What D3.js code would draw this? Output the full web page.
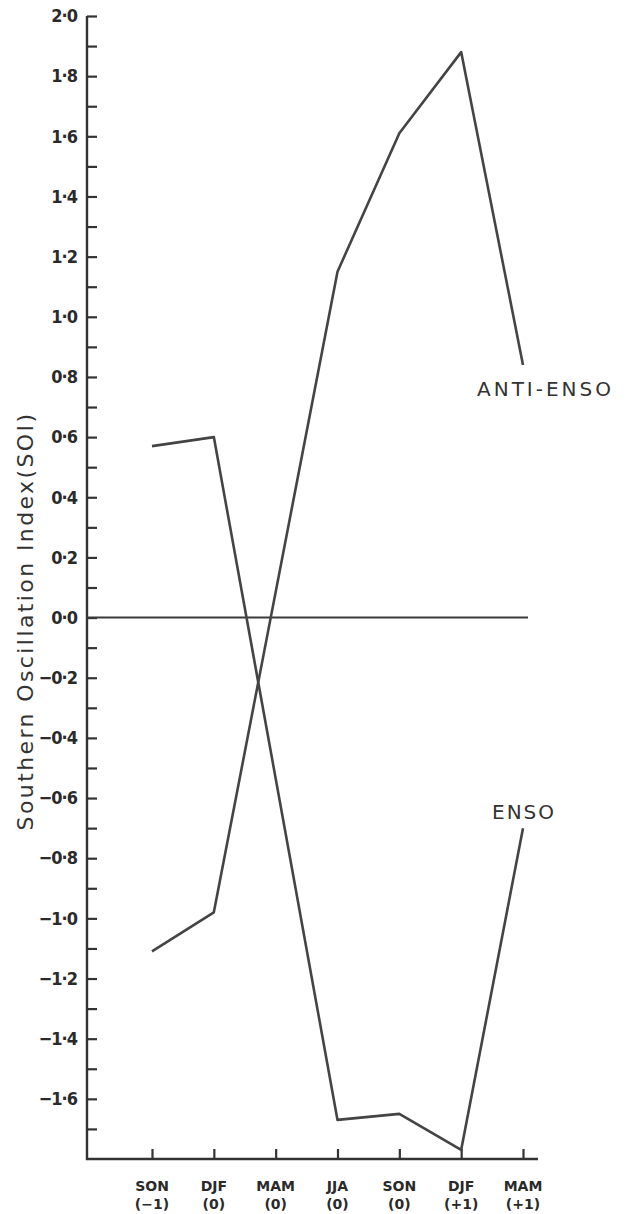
<!DOCTYPE html>
<html>
<head>
<meta charset="utf-8">
<script src="https://cdn.jsdelivr.net/npm/d3@7"></script>
<style>
    body { margin: 0; background: #fff; }
    .axis path, .axis line { stroke: #333; stroke-width: 2.2px; }
    .axis text { fill: #2a2a2a; }
</style>
</head>
<body>
<div id="chart"></div>
<script>
// data
var seasons = ["SON (-1)", "DJF (0)", "MAM (0)", "JJA (0)", "SON (0)", "DJF (+1)", "MAM (+1)"];
var seasonTop = ["SON", "DJF", "MAM", "JJA", "SON", "DJF", "MAM"];
var seasonBottom = ["(\u22121)", "(0)", "(0)", "(0)", "(0)", "(+1)", "(+1)"];
var ensoValues = [0.57, 0.60, null, -1.67, -1.65, -1.77, -0.70];
var antiEnsoValues = [-1.11, -0.98, null, 1.15, 1.61, 1.88, 0.84];
var yMajorTicks = [2.0, 1.8, 1.6, 1.4, 1.2, 1.0, 0.8, 0.6, 0.4, 0.2, 0.0, -0.2, -0.4, -0.6, -0.8, -1.0, -1.2, -1.4, -1.6];
var yMinorTicks = [1.9, 1.7, 1.5, 1.3, 1.1, 0.9, 0.7, 0.5, 0.3, 0.1, -0.1, -0.3, -0.5, -0.7, -0.9, -1.1, -1.3, -1.5, -1.7];

//Define layout
var W = 625, H = 1214;
var axisX = 87, axisRight = 538, axisTop = 16, axisBottom = 1159;

var svg = d3.select("#chart")
    .append("svg")
    .attr("width", W)
    .attr("height", H);

var xScale = d3.scalePoint().domain(seasons).range([152, 523]);
var yScale = d3.scaleLinear().domain([-1.8, 2.0]).range([axisBottom, axisTop]);

var fmt = function (d) {
    return d3.format(".1f")(d).replace(".", "\u00b7");
};

// y axis, ticks pointing inward
svg.append("g")
    .attr("class", "axis y-major")
    .attr("transform", "translate(" + axisX + ",0)")
    .call(d3.axisLeft(yScale).tickValues(yMajorTicks).tickSizeInner(-10).tickSizeOuter(0).tickPadding(10).tickFormat(fmt))
    .call(function (g) {
        g.select(".domain").remove();
        g.selectAll("text")
            .attr("font-family", "'DejaVu Sans Condensed', 'DejaVu Sans', sans-serif")
            .attr("font-weight", "bold")
            .attr("font-size", "18px")
            .attr("letter-spacing", "-1px");
    });

svg.append("g")
    .attr("class", "axis y-minor")
    .attr("transform", "translate(" + axisX + ",0)")
    .call(d3.axisLeft(yScale).tickValues(yMinorTicks).tickSizeInner(-10).tickSizeOuter(0).tickFormat(""))
    .call(function (g) { g.select(".domain").remove(); });

// axis lines
svg.append("path")
    .attr("class", "frame")
    .attr("d", "M" + axisX + "," + axisTop + "V" + axisBottom + "H" + axisRight)
    .attr("fill", "none")
    .attr("stroke", "#333")
    .attr("stroke-width", 2.4);

// x axis ticks pointing up
var xAxis = svg.append("g")
    .attr("class", "axis x-axis")
    .attr("transform", "translate(0," + axisBottom + ")")
    .call(d3.axisBottom(xScale).tickSizeInner(-10).tickSizeOuter(0).tickFormat(""));
xAxis.select(".domain").remove();

var xLabels = svg.append("g")
    .attr("class", "x-labels")
    .attr("font-family", "'DejaVu Sans', sans-serif")
    .attr("font-weight", "bold")
    .attr("font-size", "14px")
    .attr("fill", "#2a2a2a")
    .attr("text-anchor", "middle");

xLabels.selectAll("text.top")
    .data(seasons)
    .enter().append("text")
    .attr("class", "top")
    .attr("x", function (d) { return xScale(d); })
    .attr("y", axisBottom + 32)
    .text(function (d, i) { return seasonTop[i]; });

xLabels.selectAll("text.bottom")
    .data(seasons)
    .enter().append("text")
    .attr("class", "bottom")
    .attr("x", function (d) { return xScale(d); })
    .attr("y", axisBottom + 50)
    .text(function (d, i) { return seasonBottom[i]; });

// zero line
svg.append("line")
    .attr("x1", axisX)
    .attr("x2", xScale(seasons[seasons.length - 1]) + 5)
    .attr("y1", yScale(0))
    .attr("y2", yScale(0))
    .attr("stroke", "#3a3a3a")
    .attr("stroke-width", 2);

// series lines
var line = d3.line()
    .x(function (d) { return xScale(d.season); })
    .y(function (d) { return yScale(d.v); });

function toPoints(vals) {
    return seasons.map(function (s, i) { return {season: s, v: vals[i]}; })
        .filter(function (d) { return d.v !== null; });
}

var ensoPts = toPoints(ensoValues),
    antiPts = toPoints(antiEnsoValues);

svg.append("path")
    .datum(ensoPts)
    .attr("d", line)
    .attr("fill", "none")
    .attr("stroke", "#444")
    .attr("stroke-width", 2.6)
    .attr("stroke-linejoin", "round");

svg.append("path")
    .datum(antiPts)
    .attr("d", line)
    .attr("fill", "none")
    .attr("stroke", "#444")
    .attr("stroke-width", 2.6)
    .attr("stroke-linejoin", "round");

// series labels near the line ends
var antiEnd = antiPts[antiPts.length - 1],
    ensoEnd = ensoPts[ensoPts.length - 1];

svg.append("text")
    .attr("x", xScale(antiEnd.season) - 46)
    .attr("y", yScale(antiEnd.v) + 31)
    .attr("font-family", "'DejaVu Sans', sans-serif")
    .attr("font-size", "20px")
    .attr("letter-spacing", "3px")
    .attr("fill", "#333")
    .text("ANTI-ENSO");

svg.append("text")
    .attr("x", xScale(ensoEnd.season) - 31)
    .attr("y", yScale(ensoEnd.v) - 9)
    .attr("font-family", "'DejaVu Sans', sans-serif")
    .attr("font-size", "20px")
    .attr("letter-spacing", "2px")
    .attr("fill", "#333")
    .text("ENSO");

// y axis title
svg.append("text")
    .attr("transform", "translate(33,621) rotate(-90)")
    .attr("text-anchor", "middle")
    .attr("font-family", "'DejaVu Sans', sans-serif")
    .attr("font-size", "22px")
    .attr("letter-spacing", "2.4px")
    .attr("fill", "#333")
    .text("Southern Oscillation Index(SOI)");
</script>
</body>
</html>
